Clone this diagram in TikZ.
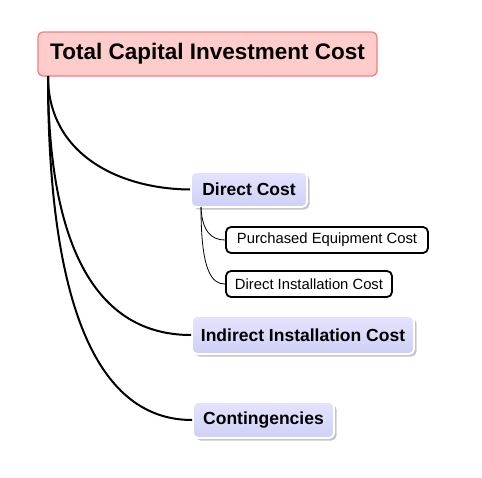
\documentclass[tikz,border=0pt]{standalone}
\usepackage{fontspec}
\setmainfont{Liberation Sans}
\usetikzlibrary{shadows}
\definecolor{rootfill}{HTML}{FFCCCC}
\definecolor{rootdraw}{HTML}{EE8080}
\definecolor{lavtop}{HTML}{E4E4FF}
\definecolor{lavbot}{HTML}{CFCFF5}
\tikzset{
  rootbox/.style={rounded corners=5pt, fill=rootfill, draw=rootdraw, line width=1.3pt,
    font=\bfseries\fontsize{22.5}{26}\selectfont, inner sep=0pt},
  mainbox/.style={rounded corners=5pt, top color=lavtop, bottom color=lavbot, draw=white,
    line width=1.8pt, font=\bfseries\fontsize{17.5}{20}\selectfont, inner sep=0pt,
    drop shadow={opacity=0.45, shadow xshift=2.5pt, shadow yshift=-2.5pt}},
  leafbox/.style={rounded corners=5pt, fill=white, draw=black, line width=1.8pt,
    font=\fontsize{14.8}{17}\selectfont, inner sep=0pt},
  thick link/.style={line width=2pt, black},
  thin link/.style={line width=0.8pt, black}
}
\begin{document}
\begin{tikzpicture}[x=1pt,y=-1pt]
\useasboundingbox (0,0) rectangle (482,477);
\node[rootbox, minimum width=339pt, minimum height=44pt] (root) at (207.5,54) {Total Capital Investment Cost};
\node[mainbox, minimum width=116pt, minimum height=35pt] (dc) at (249,189.5) {Direct Cost};
\node[leafbox, minimum width=202pt, minimum height=26pt] (pec) at (327,240) {Purchased Equipment Cost};
\node[leafbox, minimum width=166pt, minimum height=26pt] (dic) at (309,284) {Direct Installation Cost};
\node[mainbox, minimum width=222pt, minimum height=38pt] (iic) at (303,335) {Indirect Installation Cost};
\node[mainbox, minimum width=141pt, minimum height=36pt] (cont) at (263.5,420) {Contingencies};
\coordinate (ra) at (48,76);
\coordinate (da) at (201,207);
\draw[thick link] (ra) .. controls (48,155) and (120,189) .. (dc.west);
\draw[thick link] (ra) .. controls (48,295) and (127,335) .. (iic.west);
\draw[thick link] (ra) .. controls (48,368) and (128,420) .. (cont.west);
\draw[thin link] (da) .. controls (202,232) and (212,240) .. (pec.west);
\draw[thin link] (da) .. controls (201,272) and (212,284) .. (dic.west);
\end{tikzpicture}
\end{document}
